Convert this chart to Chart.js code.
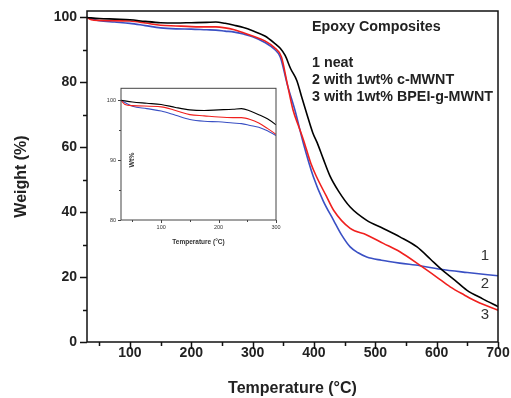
<!DOCTYPE html>
<html>
<head>
<meta charset="utf-8">
<script src="https://cdn.jsdelivr.net/npm/chart.js@4.4.0/dist/chart.umd.min.js"></script>
<style>
  body { margin: 0; background: #fff; }
  #wrap { position: relative; width: 511px; height: 398px; }
  #main { position: absolute; left: 0; top: 0; }
  #inset { position: absolute; left: 80px; top: 80px; }
</style>
</head>
<body>
<div id="wrap">
  <canvas id="main" width="511" height="398"></canvas>
  <canvas id="inset" width="210" height="170"></canvas>
</div>
<script>
// TGA curves
const neatT = [30, 50, 75, 100, 125, 150, 175, 200, 225, 240, 255, 270, 285, 300, 320, 335, 345, 353, 362, 372, 380, 388, 398, 405, 415, 426, 440, 459, 486, 513, 540, 568, 590, 606, 630, 649, 675, 700];
const neatW = [100, 99.7, 99.5, 99.3, 98.8, 98.4, 98.3, 98.4, 98.5, 98.6, 98.2, 97.6, 96.9, 95.9, 94.3, 92.2, 90.5, 88.3, 84.2, 80.6, 75.5, 70.5, 64.5, 61.5, 56.5, 51.2, 46.5, 41.6, 37.5, 35, 32.4, 29.3, 25.5, 22.7, 19, 16, 13.3, 10.9];

const cMwntT = [30, 37, 50, 100, 125, 150, 175, 200, 225, 240, 255, 270, 285, 300, 320, 335, 347, 356, 366, 375, 383, 395, 404, 420, 432, 459, 486, 513, 540, 576, 600, 622, 645, 666, 700];
const cMwntW = [100, 99.3, 99.1, 98.9, 98.3, 97.6, 97.4, 97.2, 97.1, 97.1, 96.8, 96.2, 95.3, 94.3, 92.8, 90.8, 87.8, 80, 71.4, 66.5, 62.2, 55, 51, 45, 40.6, 35, 33, 30.4, 27.8, 23.2, 20, 17, 14.5, 12.4, 9.8];

const bpeiT = [30, 50, 75, 100, 125, 150, 175, 200, 225, 240, 255, 270, 285, 300, 320, 335, 345, 357, 369, 383, 399, 415, 432, 445, 459, 472, 486, 510, 540, 573, 606, 650, 700];
const bpeiW = [100, 99.0, 98.6, 98.2, 97.5, 96.8, 96.5, 96.4, 96.2, 96.1, 95.8, 95.5, 94.9, 94.1, 92.3, 90.3, 87.8, 79, 71.4, 61, 50.9, 43.5, 37.5, 33, 29.3, 27.5, 26.2, 25.2, 24.3, 23.5, 22.4, 21.4, 20.4];

const seriesNames = ['1 neat', '2 with 1wt% c-MWNT', '3 with 1wt% BPEI-g-MWNT'];
const seriesColors = ['#000000', '#f0201e', '#3a50c4'];
const curveTags = ['1', '2', '3'];

const toPoints = (xs, ys) => xs.map((x, i) => ({ x, y: ys[i] }));

function makeDatasets(width) {
    return [
        [neatT, neatW],
        [cMwntT, cMwntW],
        [bpeiT, bpeiW],
    ].map(([xs, ys], i) => ({
        label: seriesNames[i],
        data: toPoints(xs, ys),
        borderColor: seriesColors[i],
        borderWidth: width,
        pointRadius: 0,
        fill: false,
        cubicInterpolationMode: 'monotone',
    }));
}

// ticks drawn by hand so major/minor can have different lengths
const tickMarks = {
    id: 'tickMarks',
    afterDraw(chart, args, opts) {
        const { ctx, chartArea: a } = chart;
        ctx.save();
        ctx.strokeStyle = opts.color;
        ctx.lineWidth = opts.width;
        ctx.strokeRect(a.left, a.top, a.right - a.left, a.bottom - a.top);
        const xs = chart.scales.x, ys = chart.scales.y;
        ctx.beginPath();
        xs.ticks.forEach(t => {
            const px = Math.round(xs.getPixelForValue(t.value)) + 0.5;
            const len = t.value % opts.xMajor === 0 ? opts.major : opts.minor;
            ctx.moveTo(px, a.bottom);
            ctx.lineTo(px, a.bottom + len);
        });
        ys.ticks.forEach(t => {
            const py = Math.round(ys.getPixelForValue(t.value)) + 0.5;
            const len = t.value % opts.yMajor === 0 ? opts.major : opts.minor;
            ctx.moveTo(a.left, py);
            ctx.lineTo(a.left - len, py);
        });
        ctx.stroke();
        ctx.restore();
    }
};

const annotations = {
    id: 'annotations',
    afterDraw(chart) {
        const ctx = chart.ctx;
        ctx.save();
        ctx.fillStyle = '#222';
        ctx.textBaseline = 'middle';
        ctx.font = 'bold 14.3px "Liberation Sans", Arial, sans-serif';
        ctx.fillText('Epoxy Composites', 312, 27);
        seriesNames.forEach((n, i) => ctx.fillText(n, 312, 63 + i * 17));
        ctx.font = '15px "Liberation Sans", Arial, sans-serif';
        ctx.fillStyle = '#333';
        ctx.textAlign = 'center';
        [256, 284, 315].forEach((y, i) => ctx.fillText(curveTags[i], 485, y));
        ctx.restore();
    }
};

const boldFont = (size) => ({ family: '"Liberation Sans", Arial, sans-serif', size, weight: 'bold' });

new Chart(document.getElementById('main'), {
    type: 'line',
    data: { datasets: makeDatasets(1.6) },
    options: {
        responsive: false,
        animation: false,
        layout: { padding: { left: 0, right: 13, top: 11, bottom: 0 } },
        plugins: {
            legend: { display: false },
            tooltip: { enabled: false },
            tickMarks: { color: '#111', width: 1.5, major: 7, minor: 4, xMajor: 100, yMajor: 20 },
        },
        scales: {
            x: {
                type: 'linear',
                min: 30, max: 700,
                afterFit: (s) => { s.height = 56; s.paddingRight = 0; s.paddingLeft = 0; },
                border: { display: false },
                grid: { drawOnChartArea: false, drawTicks: false },
                ticks: {
                    stepSize: 50, includeBounds: false, autoSkip: false, maxRotation: 0,
                    padding: 3, color: '#222', font: boldFont(14),
                    callback: (v) => (v % 100 === 0 ? v : ''),
                },
                title: { display: true, text: 'Temperature (°C)', color: '#222', font: boldFont(16), padding: { top: 0, bottom: 0 } },
            },
            y: {
                min: 0, max: 102,
                afterFit: (s) => { s.width = 87; s.paddingTop = 0; s.paddingBottom = 0; },
                border: { display: false },
                grid: { drawOnChartArea: false, drawTicks: false },
                ticks: {
                    stepSize: 10, includeBounds: false, autoSkip: false,
                    padding: 10, color: '#222', font: boldFont(14),
                    callback: (v) => (v % 20 === 0 ? v : ''),
                },
                title: { display: true, text: 'Weight (%)', color: '#222', font: boldFont(16), padding: { top: 12, bottom: 0 } },
            },
        },
    },
    plugins: [tickMarks, annotations],
});

const wtLabel = {
    id: 'wtLabel',
    afterDraw(chart) {
        const ctx = chart.ctx;
        ctx.save();
        ctx.translate(52, 80);
        ctx.rotate(-Math.PI / 2);
        ctx.font = 'bold 7px "Liberation Sans", Arial, sans-serif';
        ctx.fillStyle = '#333';
        ctx.textAlign = 'center';
        ctx.textBaseline = 'middle';
        ctx.fillText('Wt%', 0, 0);
        ctx.restore();
    }
};

// inset: zoom of the same data, 30-300 °C
new Chart(document.getElementById('inset'), {
    type: 'line',
    data: { datasets: makeDatasets(1.1) },
    options: {
        responsive: false,
        animation: false,
        layout: { padding: { left: 0, right: 14, top: 8, bottom: 0 } },
        plugins: {
            legend: { display: false },
            tooltip: { enabled: false },
            tickMarks: { color: '#444', width: 1, major: 3, minor: 2, xMajor: 100, yMajor: 10 },
        },
        scales: {
            x: {
                type: 'linear',
                min: 30, max: 300,
                afterFit: (s) => { s.height = 30; },
                border: { display: false },
                grid: { drawOnChartArea: false, drawTicks: false },
                ticks: {
                    stepSize: 50, includeBounds: false, autoSkip: false, maxRotation: 0,
                    padding: 4, color: '#333', font: { family: 'Liberation Sans', size: 5.5 },
                    callback: (v) => (v % 100 === 0 ? v : ''),
                },
                title: { display: true, text: 'Temperature (°C)', color: '#333', font: boldFont(6.5), padding: { top: 2 } },
            },
            y: {
                min: 80, max: 102,
                afterFit: (s) => { s.width = 41; },
                border: { display: false },
                grid: { drawOnChartArea: false, drawTicks: false },
                ticks: {
                    stepSize: 5, includeBounds: false, autoSkip: false,
                    padding: 5, color: '#333', font: { family: 'Liberation Sans', size: 5.5 },
                    callback: (v) => (v % 10 === 0 ? v : ''),
                },
            },
        },
    },
    plugins: [tickMarks, wtLabel],
});
</script>
</body>
</html>
